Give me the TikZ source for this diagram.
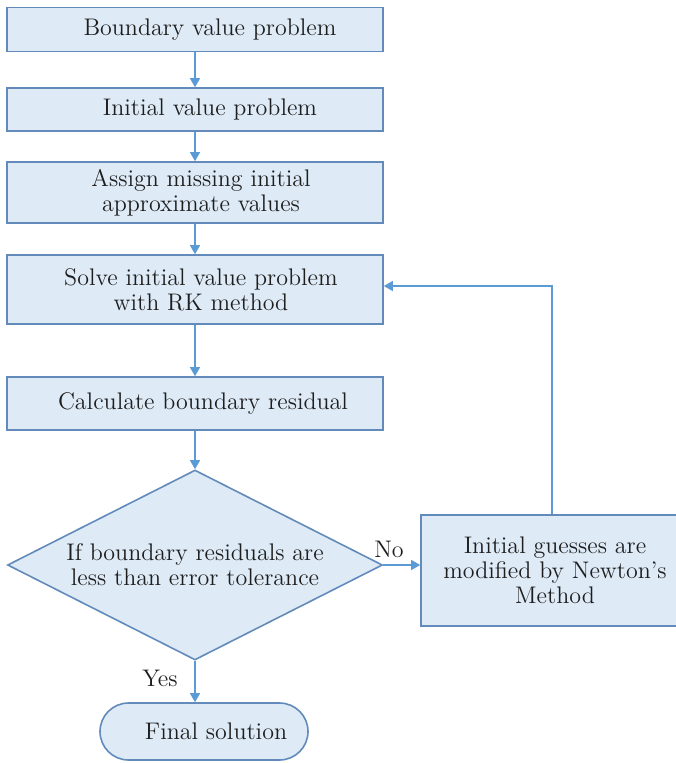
\documentclass[tikz,border=0pt]{standalone}
\usetikzlibrary{shapes.geometric,arrows.meta}
\definecolor{boxfill}{RGB}{222,235,247}
\definecolor{boxline}{RGB}{98,138,186}
\definecolor{arrowline}{RGB}{91,155,213}
\definecolor{txt}{RGB}{30,30,30}
\begin{document}
\begin{tikzpicture}[x=0.5pt,y=-0.5pt,
  every node/.style={text=txt,font=\rmfamily\fontsize{12}{12.5}\selectfont},
  procbox/.style={draw=boxline,fill=boxfill,line width=0.8pt,rectangle,
    minimum width=188pt,inner sep=0pt,align=center},
  decbox/.style={draw=boxline,fill=boxfill,line width=0.8pt,diamond,aspect=1.97,
    minimum width=187.5pt,minimum height=95pt,inner sep=0pt,align=center},
  termbox/.style={draw=boxline,fill=boxfill,line width=0.8pt,rectangle,
    rounded corners=14.25pt,minimum width=104pt,minimum height=28.5pt,inner sep=0pt},
  flow/.style={draw=arrowline,line width=0.7pt,-{Triangle[width=5pt,length=4.5pt]}},
  lbl/.style={inner sep=0pt}]
\useasboundingbox (0,0) rectangle (675,763);
\node[procbox,minimum height=22pt] (b1) at (195,29.5) {\hspace*{15pt}Boundary value problem};
\node[procbox,minimum height=21.5pt] (b2) at (195,109.5) {\hspace*{15pt}Initial value problem};
\node[procbox,minimum height=30.5pt] (b3) at (195,192.5) {\hspace*{6pt}Assign missing initial\\\hspace*{6pt}approximate values};
\node[procbox,minimum height=34.5pt] (b4) at (195,289.5) {\hspace*{6pt}Solve initial value problem\\\hspace*{6pt}with RK method};
\node[procbox,minimum height=26.5pt] (b5) at (195,403.5) {\hspace*{8pt}Calculate boundary residual};
\node[decbox] (dec) at (195,565) {If boundary residuals are\\less than error tolerance};
\node[procbox,minimum width=128pt,minimum height=55.5pt] (newton) at (549,570.5) {\hspace*{6pt}Initial guesses are\\\hspace*{6pt}modified by Newton’s\\\hspace*{6pt}Method};
\node[termbox] (fin) at (204,731.5) {\hspace*{12pt}Final solution};
\coordinate (fb) at (552,286);
\node[lbl] (no) at (389,549) {No};
\node[lbl] (yes) at (160,678) {Yes};
\draw[flow] (b1) -- (b2);
\draw[flow] (b2) -- (b3);
\draw[flow] (b3) -- (b4);
\draw[flow] (b4) -- (b5);
\draw[flow] (b5) -- (dec);
\draw[flow] (dec.east) -- (dec.east -| newton.west);
\draw[flow] (dec.south) -- (dec.south |- fin.north);
\draw[flow] (newton.north -| fb) -- (fb) -- (fb -| b4.east);
\end{tikzpicture}
\end{document}
